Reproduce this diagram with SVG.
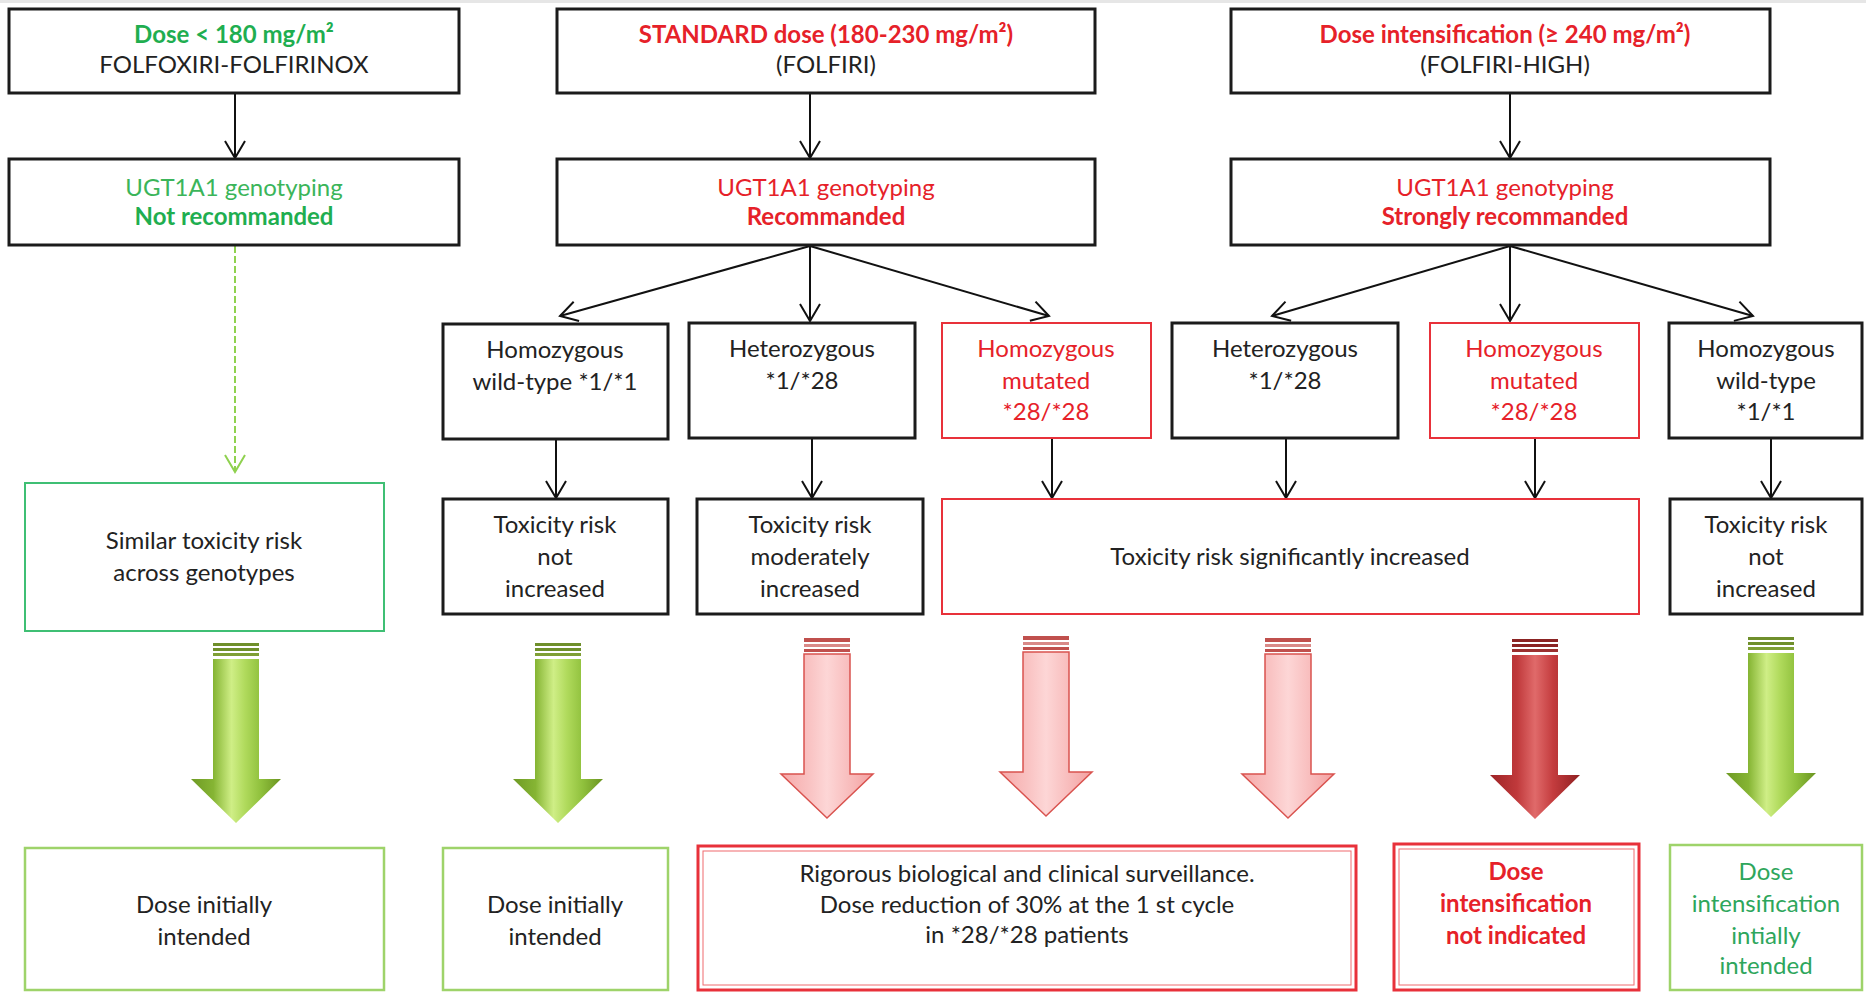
<svg xmlns="http://www.w3.org/2000/svg" width="1866" height="992" viewBox="0 0 1866 992">
<defs>
<style>
text{font-family:Lato,"Liberation Sans",sans-serif;font-size:24px;fill:#222;text-anchor:middle}
.b{font-weight:bold}
.g{fill:#1fae50}
.lg{fill:#3bb55a}
.r{fill:#e62129}
.gt{fill:#2ea65c}
.bx{fill:#fff;stroke:#1b1b1b;stroke-width:3}
.rx{fill:#fff;stroke:#e8313a;stroke-width:2}
.gx{fill:#fff;stroke:#3fbf74;stroke-width:2}
.lgx{fill:#fff;stroke:#9ed36a;stroke-width:2.5}
.dbl{fill:#fff;stroke:#e8313a;stroke-width:3}
.dbli{fill:none;stroke:#ef6a6f;stroke-width:1}
.ln{stroke:#111;stroke-width:2;fill:none;marker-end:url(#ah)}
.dash{stroke:#8fd14f;stroke-width:2;fill:none;stroke-dasharray:7 3;marker-end:url(#ahg)}
</style>
<marker id="ah" markerUnits="userSpaceOnUse" markerWidth="22" markerHeight="24" viewBox="0 0 22 24" refX="18" refY="11" orient="auto"><path d="M1,1 L18,11 L1,21" fill="none" stroke="#111" stroke-width="2"/></marker>
<marker id="ahg" markerUnits="userSpaceOnUse" markerWidth="22" markerHeight="24" viewBox="0 0 22 24" refX="18" refY="11" orient="auto"><path d="M1,1 L18,11 L1,21" fill="none" stroke="#8fd14f" stroke-width="2"/></marker>
<linearGradient id="gg" x1="0" y1="0" x2="1" y2="0">
<stop offset="0" stop-color="#6e9a24"/><stop offset="0.25" stop-color="#86b534"/><stop offset="0.45" stop-color="#cfee86"/><stop offset="0.6" stop-color="#b0da5c"/><stop offset="0.78" stop-color="#8fc03c"/><stop offset="1" stop-color="#6a9420"/>
</linearGradient>
<linearGradient id="pg" x1="0" y1="0" x2="1" y2="0">
<stop offset="0" stop-color="#f6a9a9"/><stop offset="0.3" stop-color="#f9c2c2"/><stop offset="0.5" stop-color="#fdd6d6"/><stop offset="0.75" stop-color="#f8bcbc"/><stop offset="1" stop-color="#f3a0a0"/>
</linearGradient>
<linearGradient id="rg" x1="0" y1="0" x2="1" y2="0">
<stop offset="0" stop-color="#9e2426"/><stop offset="0.3" stop-color="#c0393b"/><stop offset="0.5" stop-color="#e06a6a"/><stop offset="0.7" stop-color="#c43c3e"/><stop offset="1" stop-color="#8f1f21"/>
</linearGradient>
<g id="arrG">
<rect x="-23" y="0" width="46" height="3" fill="#6f8f2b"/><rect x="-23" y="5" width="46" height="3" fill="#6f8f2b"/><rect x="-23" y="10" width="46" height="3" fill="#7f9f35"/>
<polygon points="-23,16 23,16 23,136 45,136 0,180 -45,136 -23,136" fill="url(#gg)"/>
</g>
<g id="arrP">
<rect x="-23" y="0" width="46" height="4" fill="#c0504d"/><rect x="-23" y="6" width="46" height="3" fill="#d98a88"/><rect x="-23" y="11" width="46" height="3" fill="#c0504d"/>
<polygon points="-23,16 23,16 23,136 46,136 0,180 -46,136 -23,136" fill="url(#pg)" stroke="#d9534f" stroke-width="1.5"/>
</g>
<g id="arrR">
<rect x="-23" y="0" width="46" height="3" fill="#8b2323"/><rect x="-23" y="5" width="46" height="3" fill="#8b2323"/><rect x="-23" y="10" width="46" height="3" fill="#9b3030"/>
<polygon points="-23,16 23,16 23,136 45,136 0,180 -45,136 -23,136" fill="url(#rg)"/>
</g>
</defs>
<rect width="1866" height="992" fill="#fff"/>
<rect width="1866" height="3" fill="#e6e6e6"/>

<g id="connectors">
<line class="ln" x1="235" y1="93" x2="235" y2="158"/>
<line class="ln" x1="810" y1="93" x2="810" y2="158"/>
<line class="ln" x1="1510" y1="93" x2="1510" y2="158"/>
<line class="dash" x1="235" y1="246" x2="235" y2="472"/>
<line class="ln" x1="810" y1="246" x2="560" y2="316"/>
<line class="ln" x1="810" y1="246" x2="810" y2="321"/>
<line class="ln" x1="810" y1="246" x2="1049" y2="316"/>
<line class="ln" x1="1510" y1="246" x2="1272" y2="316"/>
<line class="ln" x1="1510" y1="246" x2="1510" y2="321"/>
<line class="ln" x1="1510" y1="246" x2="1753" y2="316"/>
<line class="ln" x1="556" y1="439" x2="556" y2="498"/>
<line class="ln" x1="812" y1="439" x2="812" y2="498"/>
<line class="ln" x1="1052" y1="439" x2="1052" y2="498"/>
<line class="ln" x1="1286" y1="439" x2="1286" y2="498"/>
<line class="ln" x1="1535" y1="439" x2="1535" y2="498"/>
<line class="ln" x1="1771" y1="439" x2="1771" y2="498"/>
</g>

<g id="block-arrows">
<use href="#arrG" transform="translate(236,643)"/>
<use href="#arrG" transform="translate(558,643)"/>
<use href="#arrP" transform="translate(827,638)"/>
<use href="#arrP" transform="translate(1046,636)"/>
<use href="#arrP" transform="translate(1288,638)"/>
<use href="#arrR" transform="translate(1535,639)"/>
<use href="#arrG" transform="translate(1771,637)"/>
</g>

<g id="n-dose-low">
<rect class="bx" x="9" y="9" width="450" height="84"/>
<text x="234" y="43" class="b g">Dose &lt; 180 mg/m²</text>
<text x="234" y="73">FOLFOXIRI-FOLFIRINOX</text>
</g>
<g id="n-dose-std">
<rect class="bx" x="557" y="9" width="538" height="84"/>
<text x="826" y="43" class="b r">STANDARD dose (180-230 mg/m²)</text>
<text x="826" y="73">(FOLFIRI)</text>
</g>
<g id="n-dose-high">
<rect class="bx" x="1231" y="9" width="539" height="84"/>
<text x="1505" y="43" class="b r">Dose intensification (≥ 240 mg/m²)</text>
<text x="1505" y="73">(FOLFIRI-HIGH)</text>
</g>

<g id="n-geno-low">
<rect class="bx" x="9" y="159" width="450" height="86"/>
<text x="234" y="196" class="lg">UGT1A1 genotyping</text>
<text x="234" y="225" class="b g">Not recommanded</text>
</g>
<g id="n-geno-std">
<rect class="bx" x="557" y="159" width="538" height="86"/>
<text x="826" y="196" class="r">UGT1A1 genotyping</text>
<text x="826" y="225" class="b r">Recommanded</text>
</g>
<g id="n-geno-high">
<rect class="bx" x="1231" y="159" width="539" height="86"/>
<text x="1505" y="196" class="r">UGT1A1 genotyping</text>
<text x="1505" y="225" class="b r">Strongly recommanded</text>
</g>

<g id="n-std-wt">
<rect class="bx" x="443" y="324" width="225" height="115"/>
<text x="555" y="358">Homozygous</text>
<text x="555" y="390">wild-type *1/*1</text>
</g>
<g id="n-std-het">
<rect class="bx" x="689" y="323" width="226" height="115"/>
<text x="802" y="357">Heterozygous</text>
<text x="802" y="389">*1/*28</text>
</g>
<g id="n-std-mut">
<rect class="rx" x="942" y="323" width="209" height="115"/>
<text x="1046" y="357" class="r">Homozygous</text>
<text x="1046" y="389" class="r">mutated</text>
<text x="1046" y="420" class="r">*28/*28</text>
</g>
<g id="n-high-het">
<rect class="bx" x="1172" y="323" width="226" height="115"/>
<text x="1285" y="357">Heterozygous</text>
<text x="1285" y="389">*1/*28</text>
</g>
<g id="n-high-mut">
<rect class="rx" x="1430" y="323" width="209" height="115"/>
<text x="1534" y="357" class="r">Homozygous</text>
<text x="1534" y="389" class="r">mutated</text>
<text x="1534" y="420" class="r">*28/*28</text>
</g>
<g id="n-high-wt">
<rect class="bx" x="1669" y="323" width="193" height="115"/>
<text x="1766" y="357">Homozygous</text>
<text x="1766" y="389">wild-type</text>
<text x="1766" y="420">*1/*1</text>
</g>

<g id="n-tox-similar">
<rect class="gx" x="25" y="483" width="359" height="148"/>
<text x="204" y="549">Similar toxicity risk</text>
<text x="204" y="581">across genotypes</text>
</g>
<g id="n-tox-not-1">
<rect class="bx" x="443" y="499" width="225" height="115"/>
<text x="555" y="533">Toxicity risk</text>
<text x="555" y="565">not</text>
<text x="555" y="597">increased</text>
</g>
<g id="n-tox-moderate">
<rect class="bx" x="697" y="499" width="226" height="115"/>
<text x="810" y="533">Toxicity risk</text>
<text x="810" y="565">moderately</text>
<text x="810" y="597">increased</text>
</g>
<g id="n-tox-significant">
<rect class="rx" x="942" y="499" width="697" height="115"/>
<text x="1290" y="565">Toxicity risk significantly increased</text>
</g>
<g id="n-tox-not-2">
<rect class="bx" x="1670" y="499" width="192" height="115"/>
<text x="1766" y="533">Toxicity risk</text>
<text x="1766" y="565">not</text>
<text x="1766" y="597">increased</text>
</g>

<g id="n-out-1">
<rect class="lgx" x="25" y="848" width="359" height="142"/>
<text x="204" y="913">Dose initially</text>
<text x="204" y="945">intended</text>
</g>
<g id="n-out-2">
<rect class="lgx" x="443" y="848" width="225" height="142"/>
<text x="555" y="913">Dose initially</text>
<text x="555" y="945">intended</text>
</g>
<g id="n-out-3">
<rect class="dbl" x="698" y="846" width="658" height="144"/>
<rect class="dbli" x="703" y="851" width="648" height="134"/>
<text x="1027" y="882">Rigorous biological and clinical surveillance.</text>
<text x="1027" y="913">Dose reduction of 30% at the 1 st cycle</text>
<text x="1027" y="943">in *28/*28 patients</text>
</g>
<g id="n-out-4">
<rect class="dbl" x="1394" y="844" width="245" height="146"/>
<rect class="dbli" x="1399" y="849" width="235" height="136"/>
<text x="1516" y="880" class="b r">Dose</text>
<text x="1516" y="912" class="b r">intensification</text>
<text x="1516" y="944" class="b r">not indicated</text>
</g>
<g id="n-out-5">
<rect class="lgx" x="1670" y="845" width="192" height="145"/>
<text x="1766" y="880" class="gt">Dose</text>
<text x="1766" y="912" class="gt">intensification</text>
<text x="1766" y="944" class="gt">intially</text>
<text x="1766" y="974" class="gt">intended</text>
</g>
</svg>
